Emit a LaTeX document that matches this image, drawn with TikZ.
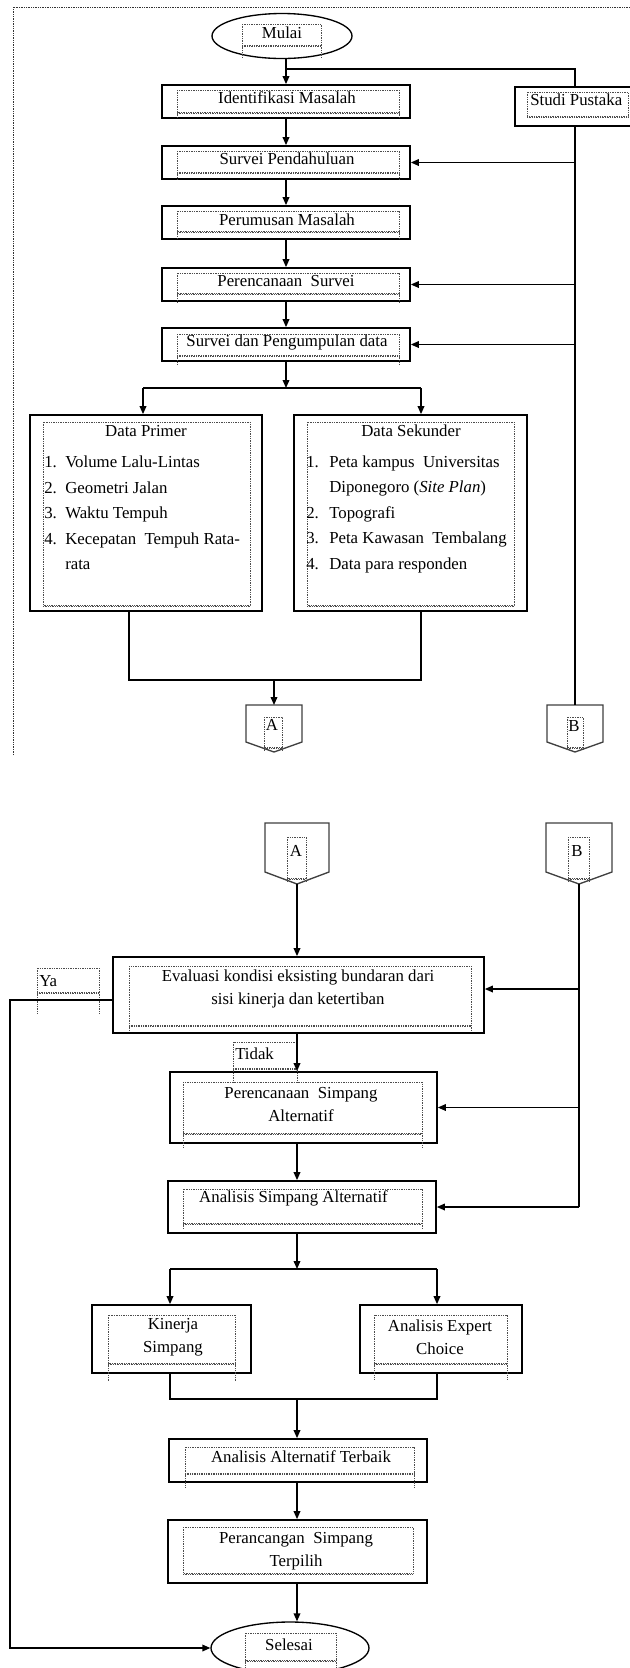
\documentclass[tikz,border=0pt]{standalone}
\usepackage{fontspec}
\setmainfont{Liberation Serif}
\usetikzlibrary{arrows.meta,shapes.geometric}
\newcommand{\inbx}[5]{%
  \draw[inb] (#1,#2) rectangle (#3,#4);
  \draw[inb] (#1,#4) -- (#1,#5) (#3,#4) -- (#3,#5);
  \draw[inb] (#1,#4+1.6) -- (#3,#4+1.6);}
\begin{document}
\begin{tikzpicture}[x=0.75pt,y=-0.75pt,
  bx/.style n args={2}{draw, line width=1.3pt, inner sep=0pt,
     minimum width=#1*0.75pt, minimum height=#2*0.75pt},
  el/.style n args={2}{draw, ellipse, line width=1pt, inner sep=0pt,
     minimum width=#1*0.75pt, minimum height=#2*0.75pt},
  txt/.style={inner sep=0pt, align=center, font=\fontsize{12.6}{17.5}\selectfont},
  it/.style={inner sep=0pt, font=\fontsize{12.6}{17.5}\selectfont},
  ln/.style={line width=1pt},
  arr/.style={line width=1pt, -{Triangle[length=6pt,width=5pt]}},
  conn/.style={draw=black!75, line width=1pt},
  inb/.style={draw=black!70, line width=0.45pt, dash pattern=on 0.6pt off 0.7pt},
  frame/.style={draw=black!80, line width=0.6pt, dash pattern=on 0.6pt off 0.7pt}]
\useasboundingbox (0,0) rectangle (630,1668);
\fill[white] (0,0) rectangle (630,1668);

% outer dotted frame
\draw[frame] (13,755) -- (13,7) -- (640,7);

% ---------- upper part ----------
\node[el={140}{45}] (mulai) at (282,36) {};
\node[bx={248}{33}] (iden)  at (286,101.5) {};
\node[bx={130}{39}] (studi) at (580,106.5) {};
\node[bx={248}{33}] (surp)  at (286,162.5) {};
\node[bx={248}{33}] (perum) at (286,222.5) {};
\node[bx={248}{33}] (rencs) at (286,284.5) {};
\node[bx={248}{33}] (surk)  at (286,344.5) {};
\node[bx={232}{196}] (dp)   at (146,513) {};
\node[bx={233}{196}] (ds)   at (410.5,513) {};

% inner dotted text frames (upper)
\inbx{242}{24}{321}{45}{58}
\inbx{177}{90}{399}{112}{118}
\inbx{527}{92}{628}{116}{116}
\inbx{177}{151}{399}{172}{179}
\inbx{177}{211}{399}{231}{239}
\inbx{177}{273}{399}{293}{303}
\inbx{177}{334}{399}{355}{364}
\inbx{43}{422}{250}{605}{605}
\inbx{307}{422}{514}{605}{605}

\node[txt] (tmulai) at (282,33) {Mulai};
\node[txt] (tiden)  at (287,98) {Identifikasi Masalah};
\node[it, anchor=west] (tstudi) at (530,100) {Studi Pustaka};
\node[txt] (tsurp)  at (287,159) {Survei Pendahuluan};
\node[txt] (tperum) at (287,220) {Perumusan Masalah};
\node[txt] (trencs) at (286,281) {Perencanaan\ \ Survei};
\node[txt] (tsurk)  at (287,342) {Survei dan Pengumpulan data};

\node[txt] (tdp) at (146,431) {Data Primer};
\node[txt] (tds) at (411,431) {Data Sekunder};
\foreach \n/\t/\y in {1./Volume Lalu-Lintas/462, 2./Geometri Jalan/488,
                      3./Waktu Tempuh/513, 4./Kecepatan\ \ Tempuh Rata-/539}{
  \node[it, anchor=base west] (dpn\y) at (44,\y+5) {\n};
  \node[it, anchor=base west] (dpt\y) at (65,\y+5) {\t};
}
\node[it, anchor=base west] (dpt564) at (65,569) {rata};
\foreach \n/\t/\y in {1./Peta kampus\ \ Universitas/462, /Diponegoro (\textit{Site Plan})/487,
                      2./Topografi/513, 3./Peta Kawasan\ \ Tembalang/538, 4./Data para\ responden/564}{
  \node[it, anchor=base west] (dsn\y) at (306,\y+5) {\n};
  \node[it, anchor=base west] (dst\y) at (329,\y+5) {\t};
}

% off-page connectors (upper)
\coordinate (a1) at (274,705);
\coordinate (b1) at (575,705);
\draw[conn] (246,705) -- (302,705) -- (302,742) -- (274,752) -- (246,742) -- cycle;
\draw[conn] (547,705) -- (603,705) -- (603,742) -- (575,752) -- (547,742) -- cycle;
\inbx{264}{717}{282}{747}{752}
\inbx{567}{717}{583}{747}{750}
\node[txt] (ta1) at (272,725) {A};
\node[txt] (tb1) at (574,726) {B};

% connectors (upper)
\coordinate (j0) at (286,69);
\coordinate (sx) at (575,69);
\draw[arr] (mulai.south -| iden.north) -- (iden.north);
\draw[ln] (j0) -- (sx) -- (sx |- studi.north);
\draw[ln] (sx |- studi.south) -- (b1);
\draw[arr] (iden) -- (surp);
\draw[arr] (surp) -- (perum);
\draw[arr] (perum) -- (rencs);
\draw[arr] (rencs) -- (surk);
\draw[arr] (sx |- surp.east) -- (surp.east);
\draw[arr] (sx |- rencs.east) -- (rencs.east);
\draw[arr] (sx |- surk.east) -- (surk.east);
\coordinate (j1) at (286,388);
\coordinate (j1l) at (143,388);
\coordinate (j1r) at (421,388);
\draw[arr] (surk) -- (j1);
\draw[ln] (j1l) -- (j1r);
\draw[arr] (j1l) -- (j1l |- dp.north);
\draw[arr] (j1r) -- (j1r |- ds.north);
\coordinate (mL) at (129,680);
\coordinate (mR) at (421,680);
\coordinate (mC) at (274,680);
\draw[ln] (mL |- dp.south) -- (mL) -- (mR) -- (mR |- ds.south);
\draw[arr] (mC) -- (a1);

% ---------- lower part ----------
\coordinate (a2) at (297,884);
\coordinate (b2) at (579,884);
\draw[conn] (265,823) -- (329,823) -- (329,872) -- (297,884) -- (265,872) -- cycle;
\draw[conn] (546,823) -- (612,823) -- (612,872) -- (579,884) -- (546,872) -- cycle;
\inbx{287}{837}{306}{878}{883}
\inbx{568}{837}{589}{878}{883}
\node[txt] (ta2) at (296,851) {A};
\node[txt] (tb2) at (577,851) {B};

\node[bx={371}{76}] (eval) at (298.5,995) {};
\node[bx={267}{71}] (psa)  at (303.5,1107.5) {};
\node[bx={268}{52}] (asa)  at (302,1207) {};
\node[bx={159}{68}] (kin)  at (171.5,1339) {};
\node[bx={162}{68}] (aec)  at (441,1339) {};
\node[bx={258}{43}] (aat)  at (298,1460.5) {};
\node[bx={259}{63}] (pst)  at (297.5,1551.5) {};
\node[el={158}{52}] (sel)  at (290,1648) {};

\inbx{129}{966}{471}{1025}{1031}
\inbx{37}{968}{99}{992}{1013}
\inbx{233}{1042}{297}{1068}{1083}
\inbx{183}{1082}{422}{1133}{1147}
\inbx{183}{1189}{422}{1223}{1229}
\inbx{108}{1315}{235}{1363}{1382}
\inbx{374}{1315}{507}{1363}{1380}
\inbx{185}{1447}{414}{1473}{1488}
\inbx{183}{1527}{413}{1573}{1573}
\inbx{245}{1633}{336}{1660}{1667}

\node[txt] (teval) at (298,989) {Evaluasi kondisi eksisting bundaran dari\\sisi kinerja dan ketertiban};
\node[it, anchor=west] (tya) at (39,981) {Ya};
\node[it, anchor=west] (ttidak) at (235,1054) {Tidak};
\node[txt] (tpsa) at (301,1104.5) {Perencanaan\ \ Simpang\\Alternatif};
\node[txt] (tasa) at (293.5,1198) {Analisis Simpang Alternatif};
\node[txt] (tkin) at (173,1337.5) {Kinerja\\Simpang};
\node[txt] (taec) at (440,1337.5) {Analisis Expert\\Choice};
\node[txt] (taat) at (301,1457) {Analisis Alternatif Terbaik};
\node[txt] (tpst) at (296,1551.5) {Perancangan\ \ Simpang\\Terpilih};
\node[txt] (tsel) at (289,1645) {Selesai};

% connectors (lower)
\coordinate (ax) at (297,0);
\coordinate (ye) at (0,989);
\coordinate (yya) at (0,1000);
\coordinate (lx) at (10,0);
\draw[arr] (a2) -- (a2 |- eval.north);
\draw[ln] (b2) -- (b2 |- asa.east);
\draw[arr] (b2 |- ye) -- (eval.east |- ye);
\draw[arr] (b2 |- psa.east) -- (psa.east);
\draw[arr] (b2 |- asa.east) -- (asa.east);
\draw[arr] (eval.west |- yya) -- (lx |- yya) -- (lx |- sel.west) -- (sel.west);
\draw[arr] (eval.south -| ax) -- (psa.north -| ax);
\draw[arr] (psa.south -| ax) -- (asa.north -| ax);
\coordinate (j2) at (297,1269);
\coordinate (j2l) at (170,1269);
\coordinate (j2r) at (437,1269);
\draw[arr] (asa.south -| ax) -- (j2);
\draw[ln] (j2l) -- (j2r);
\draw[arr] (j2l) -- (j2l |- kin.north);
\draw[arr] (j2r) -- (j2r |- aec.north);
\coordinate (m2L) at (170,1399);
\coordinate (m2R) at (437,1399);
\coordinate (m2C) at (297,1399);
\draw[ln] (m2L |- kin.south) -- (m2L) -- (m2R) -- (m2R |- aec.south);
\draw[arr] (m2C) -- (m2C |- aat.north);
\draw[arr] (aat.south -| ax) -- (pst.north -| ax);
\draw[arr] (pst.south -| ax) -- (sel.north -| ax);
\end{tikzpicture}
\end{document}
